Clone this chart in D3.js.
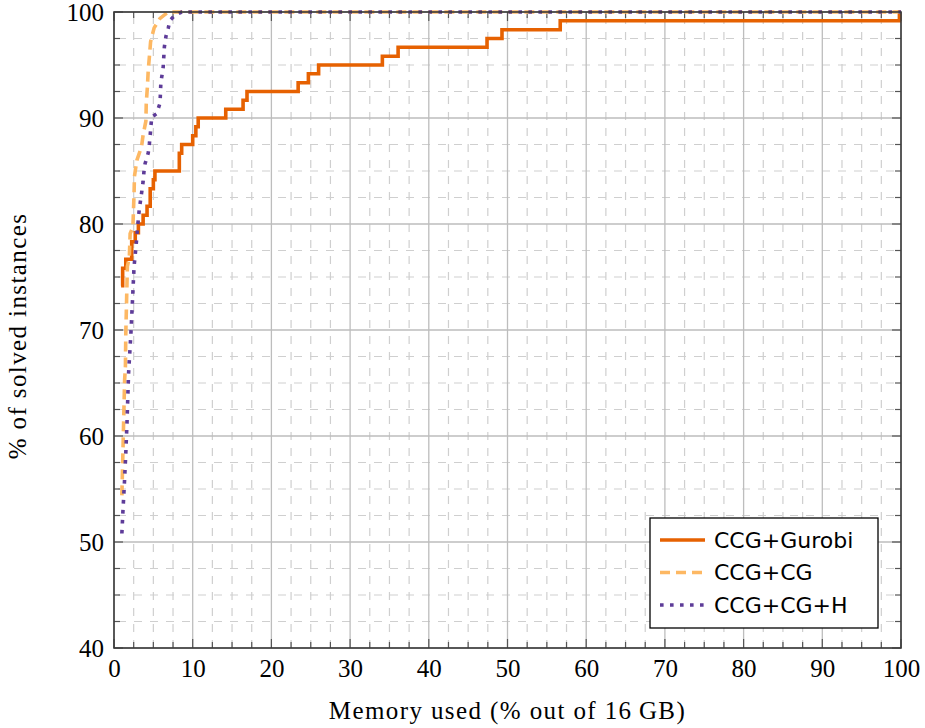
<!DOCTYPE html>
<html>
<head>
<meta charset="utf-8">
<script src="https://cdn.jsdelivr.net/npm/d3@7"></script>
<style>
  body { margin: 0; background: #fff; }
  #chart { width: 925px; height: 728px; }
</style>
</head>
<body>
<div id="chart"></div>
<script>
// series names
var seriesNames = ["CCG+Gurobi", "CCG+CG", "CCG+CG+H"];

// CCG+Gurobi: memory used (%) vs % solved, step after
var gurobiX = [0.9, 1.1, 1.5, 2.25, 2.7, 3.1, 3.7, 4.2, 4.6, 5.0, 5.2, 8.3, 8.6, 10.0, 10.4, 10.7,
               14.2, 16.4, 16.9, 23.4, 24.7, 26.0, 34.1, 36.1, 47.4, 49.3, 56.7, 99.8, 100];
var gurobiY = [74.17, 75.83, 76.67, 78.33, 79.17, 80.0, 80.83, 81.67, 83.33, 84.17, 85.0, 86.67, 87.5, 88.33, 89.17, 90.0,
               90.83, 91.67, 92.5, 93.33, 94.17, 95.0, 95.83, 96.67, 97.5, 98.33, 99.17, 100, 100];

// CCG+CG
var cgX = [1.0, 1.1, 1.2, 1.35, 1.45, 1.5, 1.6, 1.7, 1.95, 2.05, 2.4, 2.55, 2.6, 2.9, 3.5, 3.7, 4.05,
           4.1, 4.25, 4.35, 4.5, 4.65, 5.1, 5.85, 6.9, 100];
var cgY = [54.4, 57.4, 60.6, 65.3, 66.5, 69.7, 72.8, 76.0, 76.9, 79.1, 79.7, 82.9, 84.5, 86.0, 87.3, 88.4, 89.7,
           91.4, 93.0, 94.5, 95.8, 97.2, 98.5, 99.4, 100, 100];

// CCG+CG+H
var cghX = [1.0, 1.14, 1.3, 1.5, 1.65, 1.85, 2.15, 2.35, 2.55, 2.8, 3.0, 3.2, 3.5, 3.7, 3.8, 3.95, 4.35,
            4.5, 4.6, 4.7, 4.8, 5.4, 5.85, 5.95, 6.25, 6.4, 6.6, 6.9, 7.1, 7.75, 8.6, 100];
var cghY = [50.8, 53.0, 55.2, 58.4, 61.2, 65.9, 69.7, 72.8, 76.0, 77.9, 79.7, 81.3, 82.9, 84.0, 84.9, 85.7, 86.7,
            87.6, 88.4, 89.3, 90.1, 90.4, 91.4, 93.3, 94.8, 96.7, 97.7, 98.5, 99.2, 99.7, 100, 100];

var xTicks = [0, 10, 20, 30, 40, 50, 60, 70, 80, 90, 100];
var yTicks = [40, 50, 60, 70, 80, 90, 100];

var serif = "'Liberation Serif', 'DejaVu Serif', serif";
var sans = "'DejaVu Sans', 'Open Sans', sans-serif";

// set the dimensions and margins of the graph
var margin = {top: 12, right: 24, bottom: 80, left: 114},
    width = 901 - margin.left,
    height = 648 - margin.top;

var x = d3.scaleLinear().domain([0, 100]).range([0, width]);
var y = d3.scaleLinear().domain([40, 100]).range([height, 0]);

var svg = d3.select("#chart").append("svg")
    .attr("width", 925)
    .attr("height", 728)
  .append("g")
    .attr("transform", "translate(" + margin.left + "," + margin.top + ")");

var minorX = d3.range(0, 100.01, 2.5).filter(function(v) { return v % 10 !== 0; });
var minorY = d3.range(40, 100.01, 2.5).filter(function(v) { return v % 10 !== 0; });

// minor grid (dashed)
svg.append("g").selectAll("line").data(minorX).enter().append("line")
    .attr("x1", function(d) { return x(d); }).attr("x2", function(d) { return x(d); })
    .attr("y1", 0).attr("y2", height)
    .attr("stroke", "#cfcfcf").attr("stroke-width", 1.2)
    .attr("stroke-dasharray", "8,8").attr("stroke-dashoffset", -4);
svg.append("g").selectAll("line").data(minorY).enter().append("line")
    .attr("y1", function(d) { return y(d); }).attr("y2", function(d) { return y(d); })
    .attr("x1", 0).attr("x2", width)
    .attr("stroke", "#cfcfcf").attr("stroke-width", 1.2)
    .attr("stroke-dasharray", "8,8").attr("stroke-dashoffset", -4);

// major grid
svg.append("g").selectAll("line").data(xTicks).enter().append("line")
    .attr("x1", function(d) { return x(d); }).attr("x2", function(d) { return x(d); })
    .attr("y1", 0).attr("y2", height)
    .attr("stroke", "#bdbdbd").attr("stroke-width", 1.3);
svg.append("g").selectAll("line").data(yTicks).enter().append("line")
    .attr("y1", function(d) { return y(d); }).attr("y2", function(d) { return y(d); })
    .attr("x1", 0).attr("x2", width)
    .attr("stroke", "#bdbdbd").attr("stroke-width", 1.3);

// inner ticks on all four sides
var tickG = svg.append("g").attr("stroke", "#555").attr("stroke-width", 1.2);
minorX.concat(xTicks).forEach(function(v) {
  var len = v % 10 === 0 ? 9 : 6;
  tickG.append("line").attr("x1", x(v)).attr("x2", x(v)).attr("y1", height).attr("y2", height - len);
  tickG.append("line").attr("x1", x(v)).attr("x2", x(v)).attr("y1", 0).attr("y2", len);
});
minorY.concat(yTicks).forEach(function(v) {
  var len = v % 10 === 0 ? 9 : 6;
  tickG.append("line").attr("y1", y(v)).attr("y2", y(v)).attr("x1", 0).attr("x2", len);
  tickG.append("line").attr("y1", y(v)).attr("y2", y(v)).attr("x1", width).attr("x2", width - len);
});

// series
var series = [
  {name: seriesNames[0], xs: gurobiX, ys: gurobiY, color: "#e66101", dash: null, curve: d3.curveStepAfter, w: 3.6},
  {name: seriesNames[1], xs: cgX, ys: cgY, color: "#fdb863", dash: "10,6", curve: d3.curveLinear, w: 3.6},
  {name: seriesNames[2], xs: cghX, ys: cghY, color: "#5e3c99", dash: "3.6,6.4", curve: d3.curveLinear, w: 3.6}
];

series.forEach(function(s) {
  var pts = s.xs.map(function(v, i) { return [v, s.ys[i]]; });
  svg.append("path")
      .datum(pts)
      .attr("fill", "none")
      .attr("stroke", s.color)
      .attr("stroke-width", s.w)
      .attr("stroke-dasharray", s.dash)
      .attr("d", d3.line()
          .curve(s.curve)
          .x(function(d) { return x(d[0]); })
          .y(function(d) { return y(d[1]); }));
});

// axes box
svg.append("rect").attr("x", 0).attr("y", 0).attr("width", width).attr("height", height)
    .attr("fill", "none").attr("stroke", "#3a3a3a").attr("stroke-width", 1.6);

// tick labels
var xAxis = svg.append("g")
    .attr("transform", "translate(0," + height + ")")
    .call(d3.axisBottom(x).tickValues(xTicks).tickSize(0).tickPadding(11));
xAxis.select(".domain").remove();
xAxis.attr("font-family", serif);
xAxis.selectAll("text").attr("dy", "0.71em")
    .style("font-family", serif).style("font-size", "25px").style("fill", "#000");

var yAxis = svg.append("g")
    .call(d3.axisLeft(y).tickValues(yTicks).tickSize(0).tickPadding(10));
yAxis.select(".domain").remove();
yAxis.attr("font-family", serif);
yAxis.selectAll("text")
    .style("font-family", serif).style("font-size", "25px").style("fill", "#000");

// axis titles
svg.append("text")
    .attr("x", width / 2).attr("y", height + 71)
    .attr("text-anchor", "middle")
    .style("font-family", serif).style("font-size", "25px").style("letter-spacing", "1.4px")
    .text("Memory used (% out of 16\u2009GB)");
svg.append("text")
    .attr("transform", "translate(" + (-88) + "," + (height / 2 + 6) + ") rotate(-90)")
    .attr("text-anchor", "middle")
    .style("font-family", serif).style("font-size", "25px").style("letter-spacing", "1.4px")
    .text("% of solved instances");

// legend
var legend = svg.append("g")
    .attr("transform", "translate(" + (650 - margin.left) + "," + (518 - margin.top) + ")");
legend.append("rect").attr("width", 228).attr("height", 110)
    .attr("fill", "#fff").attr("stroke", "#000").attr("stroke-width", 1.3);
series.forEach(function(s, i) {
  var cy = 22 + i * 32.5;
  legend.append("line").attr("x1", 10).attr("x2", 55).attr("y1", cy).attr("y2", cy)
      .attr("stroke", s.color).attr("stroke-width", s.w).attr("stroke-dasharray", s.dash);
  legend.append("text").attr("x", 64).attr("y", cy).attr("dy", "0.36em")
      .style("font-family", sans).style("font-size", "22px").style("fill", "#000")
      .text(s.name);
});
</script>
</body>
</html>
